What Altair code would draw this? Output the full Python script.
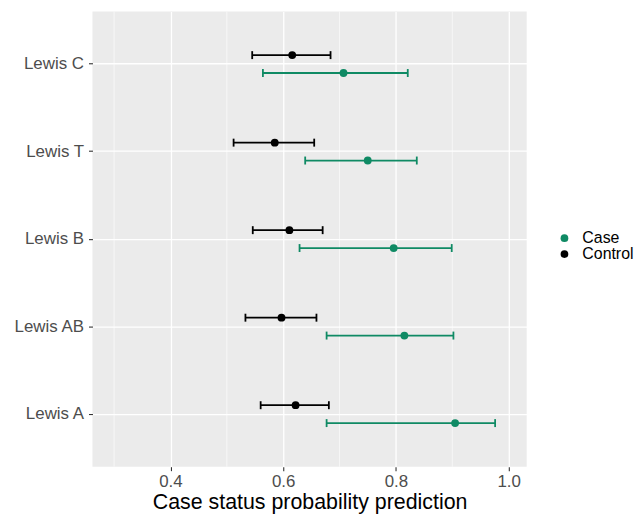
import altair as alt
import pandas as pd

categories = ["Lewis C", "Lewis T", "Lewis B", "Lewis AB", "Lewis A"]
groups = ["Case", "Control"]
case_mid = [0.707, 0.750, 0.796, 0.815, 0.905]
case_lo = [0.564, 0.639, 0.629, 0.677, 0.677]
case_hi = [0.821, 0.837, 0.899, 0.902, 0.976]
ctrl_mid = [0.616, 0.585, 0.611, 0.597, 0.622]
ctrl_lo = [0.545, 0.512, 0.546, 0.533, 0.560]
ctrl_hi = [0.684, 0.655, 0.670, 0.659, 0.681]
x_ticks = [0.4, 0.6, 0.8, 1.0]
minor_breaks = [0.3, 0.5, 0.7, 0.9]

rows = []
for i, c in enumerate(categories):
    rows.append({"cat": c, "group": "Case", "mid": case_mid[i], "lo": case_lo[i], "hi": case_hi[i]})
    rows.append({"cat": c, "group": "Control", "mid": ctrl_mid[i], "lo": ctrl_lo[i], "hi": ctrl_hi[i]})
df = pd.DataFrame(rows)
minor_df = pd.DataFrame({"b": minor_breaks})

FONT = "Liberation Sans"
GREEN = "#0F8A64"
xscale = alt.Scale(domain=[0.2616, 1.032], nice=False, zero=False)
yscale = alt.Scale(domain=categories, paddingInner=0, paddingOuter=0.1)
offscale = alt.Scale(type="point", domain=["Control", "Case"], range=[35, 53], padding=0)
cscale = alt.Scale(domain=groups, range=[GREEN, "#000000"])

base = alt.Chart(df)
y_enc = alt.Y("cat:N", scale=yscale, title=None,
              axis=alt.Axis(bandPosition=0.5, grid=True, gridColor="white", gridWidth=1.3,
                            domain=False, tickColor="#333333", tickSize=4, tickWidth=1.1,
                            labelColor="#4D4D4D", labelFont=FONT, labelFontSize=17,
                            labelPadding=5))
yoff = alt.YOffset("group:N", scale=offscale)
col = alt.Color("group:N", scale=cscale,
                legend=alt.Legend(title=None, orient="none", legendX=467, legendY=220,
                                  labelFont=FONT, labelFontSize=16, labelColor="#000000",
                                  symbolType="circle", symbolSize=60, rowPadding=0,
                                  symbolStrokeWidth=0, labelOffset=10))

minor = alt.Chart(minor_df).mark_rule(color="white", strokeWidth=0.6).encode(
    x=alt.X("b:Q", scale=xscale)
)

rules = base.mark_rule(strokeWidth=1.8).encode(
    x=alt.X("lo:Q", scale=xscale,
            axis=alt.Axis(values=x_ticks, format=".1f", grid=True, gridColor="white",
                          gridWidth=1.3, domain=False, tickColor="#333333", tickSize=4,
                          tickWidth=1.1, labelColor="#4D4D4D", labelFont=FONT,
                          labelFontSize=17, labelPadding=3,
                          title="Case status probability prediction", titleFont=FONT,
                          titleFontSize=21.5, titleFontWeight="normal", titleColor="#000000",
                          titlePadding=2)),
    x2="hi:Q", y=y_enc, yOffset=yoff, color=col,
)
cap_lo = base.mark_point(shape="M0,-1L0,1", size=64, filled=False, strokeWidth=1.8, opacity=1).encode(
    x=alt.X("lo:Q", scale=xscale), y=y_enc, yOffset=yoff, color=col,
)
cap_hi = base.mark_point(shape="M0,-1L0,1", size=64, filled=False, strokeWidth=1.8, opacity=1).encode(
    x=alt.X("hi:Q", scale=xscale), y=y_enc, yOffset=yoff, color=col,
)
pts = base.mark_point(shape="circle", size=62, filled=True, opacity=1).encode(
    x=alt.X("mid:Q", scale=xscale), y=y_enc, yOffset=yoff, color=col,
)

chart = alt.layer(minor, rules, cap_lo, cap_hi, pts).properties(
    width=632, height=507, background="white",
    autosize=alt.AutoSizeParams(type="fit", contains="padding"),
    padding={"left": 5, "top": 1, "right": 110, "bottom": 0},
).configure_view(fill="#EBEBEB", stroke=None)

chart.save("out.html", embed_options={"renderer": "svg", "actions": False})
